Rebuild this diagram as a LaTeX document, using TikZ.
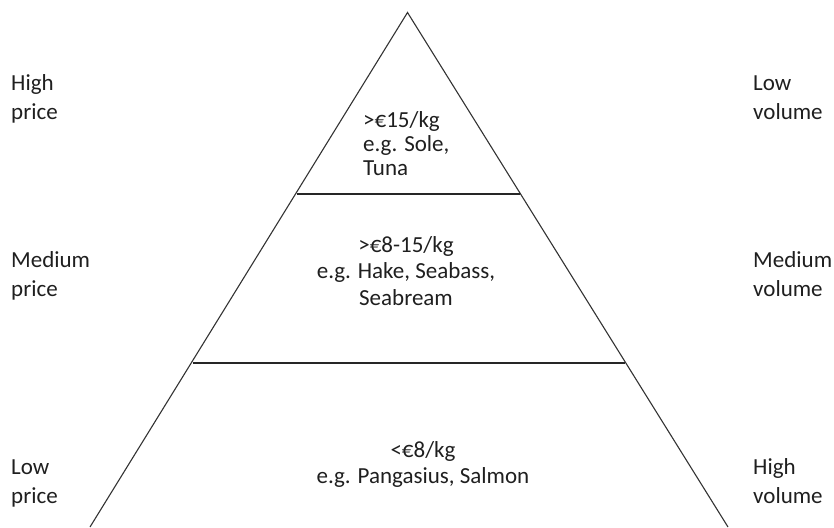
\documentclass[tikz,border=0pt]{standalone}
\usepackage{fontspec}
\setmainfont{Carlito}
\begin{document}
\begin{tikzpicture}[x=1pt,y=-1pt,
  lbl/.style={font=\fontsize{23}{29}\selectfont, text=black!88, inner sep=0pt, align=left, anchor=base west},
  mid/.style={font=\fontsize{23}{26.5}\selectfont, text=black!88, inner sep=0pt, align=center, anchor=base},
  side/.style={line width=1.1pt, draw=black!80},
  tier/.style={line width=1.6pt, draw=black!85}]
\useasboundingbox (0,0) rectangle (834,527);
\clip (0,0) rectangle (834,527);
\coordinate (apex) at (407.5,12.5);
\coordinate (bl) at (90,527);
\coordinate (br) at (728,527);
\coordinate (t1l) at (296.5,194);
\coordinate (t1r) at (520,194);
\coordinate (t2l) at (193,363);
\coordinate (t2r) at (625,363);
\draw[side] (bl) -- (apex) -- (br);
\draw[tier] (t1l) -- (t1r);
\draw[tier] (t2l) -- (t2r);
% left labels (anchor = baseline of last line)
\node[lbl] (hp) at (11,119) {High\\price};
\node[lbl] (mp) at (11,296) {Medium\\price};
\node[lbl] (lp) at (11,503) {Low\\price};
% right labels
\node[lbl] (lv) at (753,119) {Low\\volume};
\node[lbl] (mv) at (753,296) {Medium\\volume};
\node[lbl] (hv) at (753,503) {High\\volume};
% tier texts
\node[lbl, font=\fontsize{23}{24}\selectfont] (top) at (363,175) {>€15/kg\\e.g. Sole,\\Tuna};
\node[mid] (middle) at (406,305) {>€8-15/kg\\e.g. Hake, Seabass,\\Seabream};
\node[mid, font=\fontsize{23}{26}\selectfont] (bottom) at (423,483) {<€8/kg\\e.g. Pangasius, Salmon};
\end{tikzpicture}
\end{document}
